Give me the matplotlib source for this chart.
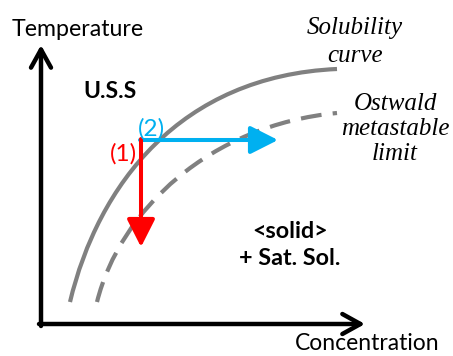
import matplotlib
matplotlib.use('Agg')
import matplotlib.pyplot as plt
from matplotlib.path import Path
from matplotlib.patches import PathPatch

# curve control points (pixel space, y grows downward)
sol_x = [70, 98, 180, 337]
sol_y = [302, 185, 76, 69]
ost_x = [97, 120, 210, 337]
ost_y = [302, 210, 125, 113]

# process path: start point, cooling end (1), concentrating end (2)
start = (141, 140)
cool_end = (141, 247)
conc_end = (278, 140)

gray = '#808080'
red = '#FF0000'
blue = '#00B0F0'
sans = 'Lato'
serif = 'Liberation Serif'

fig = plt.figure(figsize=(4.53, 3.56), dpi=100)
ax = fig.add_axes([0, 0, 1, 1])
ax.set_xlim(0, 453)
ax.set_ylim(356, 0)
ax.axis('off')

# axes arrows
axis_style = '->,head_length=1.3,head_width=0.72'
ax.annotate('', xy=(41, 45), xytext=(41, 326),
            arrowprops=dict(arrowstyle=axis_style, lw=3.2, color='black',
                            mutation_scale=10, shrinkA=0, shrinkB=0))
ax.annotate('', xy=(365, 324), xytext=(39, 324),
            arrowprops=dict(arrowstyle=axis_style, lw=3.2, color='black',
                            mutation_scale=10, shrinkA=0, shrinkB=0))

# curves as cubic bezier paths
codes = [Path.MOVETO, Path.CURVE4, Path.CURVE4, Path.CURVE4]
ax.add_patch(PathPatch(Path(list(zip(sol_x, sol_y)), codes), fill=False,
                       edgecolor=gray, lw=3, capstyle='butt'))
ax.add_patch(PathPatch(Path(list(zip(ost_x, ost_y)), codes), fill=False,
                       edgecolor=gray, lw=3, linestyle=(0, (5, 2.7)), capstyle='butt'))

# process arrows
head = '-|>,head_length=1.7,head_width=0.86'
ax.annotate('', xy=conc_end, xytext=(start[0] - 1, start[1]),
            arrowprops=dict(arrowstyle=head, lw=2.9, color=blue,
                            mutation_scale=10, shrinkA=0, shrinkB=0))
ax.annotate('', xy=cool_end, xytext=(start[0], start[1] - 1),
            arrowprops=dict(arrowstyle=head, lw=2.9, color=red,
                            mutation_scale=10, shrinkA=0, shrinkB=0))

# labels
ax.text(12, 29, 'Temperature', fontsize=16.7, family=sans, va='center', ha='left')
ax.text(440, 344, 'Concentration', fontsize=16.5, family=sans, va='center', ha='right')
ax.text(110, 91, 'U.S.S', fontsize=16.5, family=sans, weight='bold', va='center', ha='center')
ax.text(123, 154, '(1)', fontsize=17.5, family=sans, color=red, va='center', ha='center')
ax.text(151, 129, '(2)', fontsize=17.5, family=sans, color=blue, va='center', ha='center')
ax.text(290, 245, '<solid>\n+ Sat. Sol.', fontsize=16.8, family=sans, weight='bold',
        va='center', ha='center', linespacing=1.3)
ax.text(355, 42, 'Solubility\ncurve', fontsize=18, family=serif, style='italic',
        va='center', ha='center', linespacing=1.32)
ax.text(395, 129, 'Ostwald\nmetastable\nlimit', fontsize=18, family=serif, style='italic',
        va='center', ha='center', linespacing=1.15)

fig.savefig('out.png', dpi=100)
